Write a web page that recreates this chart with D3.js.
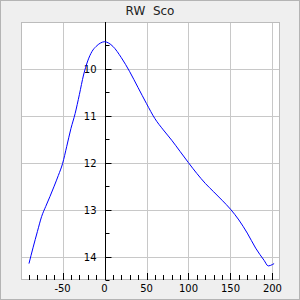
<!DOCTYPE html>
<html><head><meta charset="utf-8">
<script src="https://cdn.jsdelivr.net/npm/d3@7"></script>
<style>
html,body{margin:0;padding:0;background:#efefef;}
svg{display:block;}
text{font-family:"DejaVu Sans",sans-serif;}
</style></head>
<body><svg id="c" width="300" height="300"></svg>
<script>
const title = "RW  Sco";
const phase = [-90,-85,-80,-75,-70,-65,-60,-55,-50,-45,-40,-35,-30,-25,-20,-15,-10,-5,0,5,10,20,30,40,50,60,70,80,90,100,110,120,130,140,150,160,170,180,190,195,200,202];
const mag   = [14.15,13.8,13.47,13.15,12.93,12.72,12.5,12.27,12.02,11.65,11.27,10.95,10.55,10.13,9.83,9.63,9.52,9.45,9.42,9.45,9.52,9.76,10.06,10.4,10.74,11.06,11.3,11.52,11.76,12.0,12.23,12.44,12.62,12.8,12.99,13.22,13.5,13.82,14.08,14.2,14.17,14.15];
const xTicks = [-50,0,50,100,150,200];
const yTicks = [10,11,12,13,14];
const xDomain = [-99.5,209];
const yDomain = [9,14.5];

const svg = d3.select("#c");
const L=21,R=280,T=22,B=280;
svg.append("rect").attr("x",0.5).attr("y",0.5).attr("width",299).attr("height",299)
  .attr("fill","#efefef").attr("stroke","#b4b4b4");
svg.append("rect").attr("x",L).attr("y",T).attr("width",R-L).attr("height",B-T).attr("fill","#fff");

const x = d3.scaleLinear().domain(xDomain).range([L,R]);
const y = d3.scaleLinear().domain(yDomain).range([T,B]);

// grid
svg.append("g").selectAll("line").data(xTicks).join("line")
  .attr("x1",d=>Math.round(x(d))+0.5).attr("x2",d=>Math.round(x(d))+0.5)
  .attr("y1",T).attr("y2",B).attr("stroke","#c8c8c8");
svg.append("g").selectAll("line").data(yTicks).join("line")
  .attr("y1",d=>Math.round(y(d))+0.5).attr("y2",d=>Math.round(y(d))+0.5)
  .attr("x1",L).attr("x2",R).attr("stroke","#c8c8c8");
svg.append("rect").attr("x",L+0.5).attr("y",T+0.5).attr("width",R-L-1).attr("height",B-T-1)
  .attr("fill","none").attr("stroke","#bcbcbc");

// x axis ticks (inside, from bottom)
const x0 = Math.round(x(0))+0.5;
const xMinor = d3.range(-90,210,10);
svg.append("g").selectAll("line").data(xMinor).join("line")
  .attr("x1",d=>Math.round(x(d))+0.5).attr("x2",d=>Math.round(x(d))+0.5)
  .attr("y1",B).attr("y2",d=>xTicks.includes(d)?B-7:B-5).attr("stroke","#000");
svg.append("g").selectAll("text").data(xTicks).join("text")
  .attr("x",d=>x(d)).attr("y",B+12).attr("text-anchor","middle")
  .attr("font-size",10).attr("fill","#000").text(d=>String(d));

// y axis at x=0
svg.append("line").attr("x1",x0).attr("x2",x0).attr("y1",T).attr("y2",B).attr("stroke","#000");
const yMinor = d3.range(9.5,14.51,0.5);
svg.append("g").selectAll("line").data(yMinor).join("line")
  .attr("y1",d=>Math.round(y(d))+0.5).attr("y2",d=>Math.round(y(d))+0.5)
  .attr("x1",x0).attr("x2",d=>Number.isInteger(d)?x0+6:x0+4).attr("stroke","#000");
svg.append("g").selectAll("text").data(yTicks).join("text")
  .attr("x",x0-9).attr("y",d=>y(d)+4).attr("text-anchor","end")
  .attr("font-size",10).attr("fill","#000").text(d=>String(d));

// curve
const pts = phase.map((p,i)=>[p,mag[i]]);
svg.append("path").datum(pts)
  .attr("d",d3.line().x(d=>x(d[0])).y(d=>y(d[1])).curve(d3.curveMonotoneX))
  .attr("fill","none").attr("stroke","#0000ff").attr("stroke-width",1);

svg.append("text").attr("x",150).attr("y",15).attr("text-anchor","middle")
  .attr("font-size",12).attr("fill","#222").style("white-space","pre").text(title);
</script></body></html>
